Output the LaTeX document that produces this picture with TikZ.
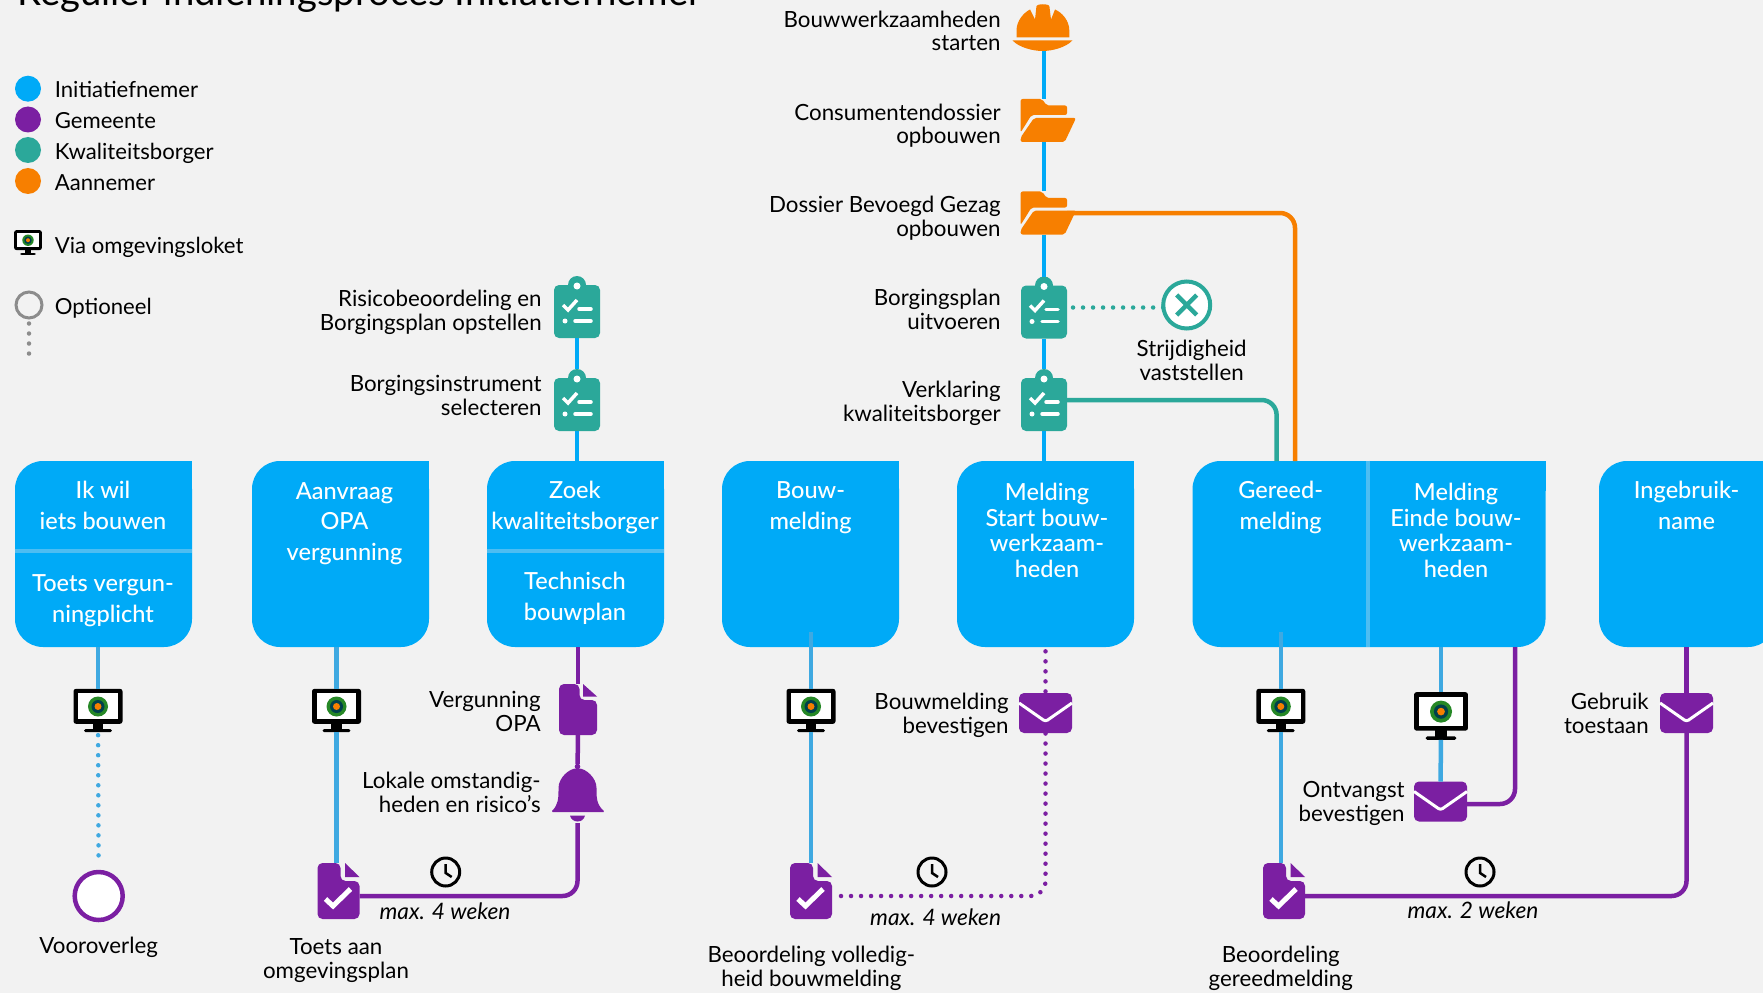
\documentclass[tikz,border=0pt]{standalone}
\usepackage{fontspec}
\setmainfont{Lato}
\newfontfamily\mediumfont{Lato Medium}
\usetikzlibrary{positioning, calc}
\definecolor{pagebg}{HTML}{F2F2F2}
\definecolor{boxblue}{HTML}{00AAF7}
\definecolor{lowblue}{HTML}{3FA9E1}
\definecolor{divblue}{HTML}{4DBDF2}
\definecolor{gemeente}{HTML}{7B1FA2}
\definecolor{borger}{HTML}{2BA89A}
\definecolor{aannemer}{HTML}{F77F00}
\definecolor{optgrey}{HTML}{8C8C8C}
\newcommand{\pxu}{0.02cm}
\tikzset{
    phase/.style={rectangle, fill=boxblue, rounded corners=0.56cm, inner sep=0pt, minimum height=186*\pxu},
    phasetxt/.style={anchor=base, align=center, inner sep=0pt, text=white, font=\mediumfont\fontsize{13.4}{17.2}\selectfont},
    phasetxtB/.style={phasetxt, font=\mediumfont\fontsize{13.4}{14.5}\selectfont},
    divider/.style={divblue, line width=4*\pxu},
    txtR/.style={anchor=base east, align=right, inner sep=0pt, font=\fontsize{12.7}{13.4}\selectfont},
    txtC/.style={anchor=base, align=center, inner sep=0pt, font=\fontsize{12.7}{13.4}\selectfont},
    txtL/.style={anchor=base west, inner sep=0pt, font=\fontsize{12.6}{13.4}\selectfont},
    txtI/.style={anchor=base, inner sep=0pt, font=\itshape\fontsize{12.9}{13.4}\selectfont},
    zone/.style={rectangle, inner sep=0pt, outer sep=0pt, transform shape},
    legdot/.style={circle, inner sep=0pt, minimum size=26*\pxu},
    mainline/.style={line width=4.5*\pxu},
    dotline/.style={line width=4.5*\pxu, line cap=round, dash pattern=on 0pt off 5.7pt},
    bendline/.style={rounded corners=0.3cm},
    % icons, drawn round the origin, 1 unit = 1 pixel
    pics/clipboard/.style={code={
        \node[zone, minimum width=46*\pxu, minimum height=62*\pxu] (-c) at (0,0) {};
        \fill[borger, rounded corners=0.1cm] (-23,-22) rectangle (23,31);
        \fill[borger] (0,-22) circle (9);
        \fill[white] (0,-21) circle (3.5);
        \draw[white, line width=3.5*\pxu] (-14,-2) -- (-9,3) -- (0,-7);
        \draw[white, line width=3.5*\pxu, line cap=round] (2,2) -- (14,2);
        \fill[white] (-12,14) circle (2.5);
        \draw[white, line width=3.5*\pxu, line cap=round] (-2,14) -- (14,14);
    }},
    pics/folder/.style={code={
        \node[zone, minimum width=46*\pxu, minimum height=43*\pxu] (-c) at (0,0) {};
        \fill[aannemer, rounded corners=0.04cm] (-23.4,-21.5) -- (-2,-21.5) -- (2.7,-15) -- (23,-15) -- (23,-5.5) -- (-12.5,-5.5) -- (-23.4,12) -- cycle;
        \fill[aannemer, rounded corners=0.04cm] (-10,-2.5) -- (32,-2.5) -- (20.7,21.5) -- (-23.4,21.5) -- (-23.4,17) -- cycle;
    }},
    pics/hat/.style={code={
        \node[zone, minimum width=46*\pxu, minimum height=47*\pxu] (-c) at (0,0) {};
        \fill[aannemer] (-27.5,10) -- (-27.5,3) .. controls (-27.5,-7) and (-20,-15) .. (-14,-18) -- (-9,-8) -- (-7.6,-21) .. controls (-7.6,-24) and (5.4,-24) .. (5.4,-21) -- (7,-8) -- (11,-18) .. controls (18,-15) and (25.3,-7) .. (25.3,3) -- (25.3,10) -- cycle;
        \fill[aannemer] (-31.4,13) -- (28.3,13) .. controls (22,20) and (8,23.5) .. (-1.5,23.5) .. controls (-11,23.5) and (-25,20) .. (-31.4,13) -- cycle;
    }},
    pics/mail/.style={code={
        \node[zone, minimum width=53*\pxu, minimum height=40*\pxu] (-c) at (0,0) {};
        \coordinate (-out) at (26,2.5);
        \fill[gemeente, rounded corners=0.1cm] (-26.5,-20) rectangle (26.5,20);
        \draw[white, line width=3*\pxu, rounded corners=0.05cm] (-26.5,-10) -- (0,8.5) -- (26.5,-10);
    }},
    pics/plaindoc/.style={code={
        \node[zone, minimum width=38*\pxu, minimum height=51*\pxu] (-c) at (0,0) {};
        \fill[gemeente, rounded corners=0.1cm] (-19,-25.5) -- (1.5,-25.5) -- (1.5,-9.5) -- (19,-9.5) -- (19,25.5) -- (-19,25.5) -- cycle;
        \fill[gemeente] (5,-25.5) -- (19,-13) -- (5,-13) -- cycle;
    }},
    pics/checkdoc/.style={code={
        \node[zone, minimum width=42*\pxu, minimum height=56*\pxu] (-c) at (0,0) {};
        \coordinate (-out) at (21,5);
        \fill[gemeente, rounded corners=0.1cm] (-21,-28) -- (2,-28) -- (2,-10) -- (21,-10) -- (21,28) -- (-21,28) -- cycle;
        \fill[gemeente] (6.5,-28) -- (21,-14) -- (6.5,-14) -- cycle;
        \draw[white, line width=5*\pxu] (-13,8) -- (-5.5,15) -- (12,-2);
    }},
    pics/bell/.style={code={
        \node[zone, minimum width=40*\pxu, minimum height=59*\pxu] (-c) at (0,0) {};
        \fill[gemeente] (0,-27) circle (2.8);
        \fill[gemeente, rounded corners=0.03cm] (-26.5,18.5) .. controls (-19,11) and (-19,4) .. (-19,-4) .. controls (-19,-16) and (-8,-25) .. (0,-25) .. controls (8,-25) and (19,-16) .. (19,-4) .. controls (19,4) and (19,11) .. (27.5,18.5) -- cycle;
        \fill[gemeente] (-7.5,22) .. controls (-6,30) and (6,30) .. (7.5,22) -- cycle;
    }},
    pics/monitor/.style={code={
        \node[zone, minimum width=49*\pxu, minimum height=43.4*\pxu] (-c) at (0,0) {};
        \fill[black, rounded corners=0.05cm] (-24.5,-21.7) rectangle (24.5,13.3);
        \fill[white] (-19.8,-17.3) rectangle (19.8,8.7);
        \fill[black] (-5.3,13) rectangle (5.3,19);
        \fill[black, rounded corners=0.03cm] (-13.9,18.5) rectangle (13.9,21.7);
        \fill[green!45!black!85] (0,-4) circle (10);
        \fill[blue!40!black!75!green] (0,-4) circle (6.5);
        \fill[aannemer] (0,-4) circle (3.5);
    }},
    pics/clock/.style={code={
        \node[zone, minimum size=29*\pxu] (-c) at (0,0) {};
        \draw[black, line width=3*\pxu] (0,0) circle (14);
        \draw[black, line width=2.5*\pxu] (0,-8) -- (0,1) -- (6,5);
    }},
    pics/cross/.style={code={
        \node[zone, circle, draw=borger, fill=white, line width=4*\pxu, minimum size=47*\pxu] (-c) at (0,0) {};
        \draw[borger, line width=4.5*\pxu] (-10,-10) -- (10,10) (-10,10) -- (10,-10);
    }},
}
\begin{document}
\begin{tikzpicture}[x=\pxu, y=-\pxu]
    \path[use as bounding box, clip] (0,0) rectangle (1763,993);
    \fill[pagebg] (0,0) rectangle (1763,993);

    % Title and legend
    \node[anchor=base west, inner sep=0pt, font=\fontsize{21.8}{24}\selectfont] (title) at (17,5.5) {Regulier indieningsproces Initiatiefnemer};
    \node[legdot, fill=boxblue] (legA) at (28,88.7) {};
    \node[legdot, fill=gemeente] (legB) at (28,119.5) {};
    \node[legdot, fill=borger] (legC) at (28,150) {};
    \node[legdot, fill=aannemer] (legD) at (28,181) {};
    \node[txtL] (legAt) at (54.5,98) {Initiatiefnemer};
    \node[txtL] (legBt) at (54.5,129) {Gemeente};
    \node[txtL] (legCt) at (54.5,160) {Kwaliteitsborger};
    \node[txtL] (legDt) at (54.5,191) {Aannemer};
    \pic[scale=0.57] (legM) at (28,242.5) {monitor};
    \node[txtL] (legMt) at (54.5,253) {Via omgevingsloket};
    \node[legdot, draw=optgrey, fill=none, line width=3*\pxu] (legO) at (29,305) {};
    \node[txtL] (legOt) at (54.5,314) {Optioneel};
    \coordinate (legOend) at (29,357);
    \draw[optgrey, dotline, shorten <=4*\pxu] (legO) -- (legOend);

    % Phase boxes
    \node[phase, minimum width=177*\pxu] (boxA) at (103.5,554) {};
    \node[phase, minimum width=177*\pxu] (boxB) at (340.5,554) {};
    \node[phase, minimum width=177*\pxu] (boxC) at (575.5,554) {};
    \node[phase, minimum width=177*\pxu] (boxD) at (810.5,554) {};
    \node[phase, minimum width=177*\pxu] (boxE) at (1045.5,554) {};
    \node[phase, minimum width=353*\pxu] (boxF) at (1369,554) {};
    \node[phase, minimum width=177*\pxu] (boxG) at (1687.5,554) {};
    \foreach \b in {boxA,boxB,boxC,boxD,boxE,boxF,boxG}
        \fill[boxblue] (\b.north east) rectangle ++(-30,30);
    \draw[divider] (boxA.west) ++(0,-3) -- ++(177,0);
    \draw[divider] (boxC.west) ++(0,-3) -- ++(177,0);
    \draw[divider] (boxF.north) ++(-1,0) -- ++(0,186);

    \node[phasetxt] (txtA) at (103,529) {Ik wil\\iets bouwen};
    \node[phasetxt] (txtAb) at (103,622) {Toets vergun-\\ningplicht};
    \node[phasetxt] (txtB) at (344.5,560) {Aanvraag\\OPA\\vergunning};
    \node[phasetxt] (txtC) at (575,529) {Zoek\\kwaliteitsborger};
    \node[phasetxt] (txtCb) at (575,620) {Technisch\\bouwplan};
    \node[phasetxt] (txtD) at (810.5,529) {Bouw-\\melding};
    \node[phasetxtB] (txtE) at (1047,577) {Melding\\Start bouw-\\werkzaam-\\heden};
    \node[phasetxt] (txtF) at (1280.7,529) {Gereed-\\melding};
    \node[phasetxtB] (txtFb) at (1456,577) {Melding\\Einde bouw-\\werkzaam-\\heden};
    \node[phasetxt] (txtG) at (1686.6,529) {Ingebruik-\\name};

    % Upper branch left
    \pic (clipA) at (577,307) {clipboard};
    \pic (clipB) at (577,400) {clipboard};
    \node[txtR] (clipAt) at (542,330) {Risicobeoordeling en\\Borgingsplan opstellen};
    \node[txtR] (clipBt) at (542,415) {Borgingsinstrument\\selecteren};
    \draw[boxblue, mainline] (clipA-c) -- (clipB-c);
    \draw[boxblue, mainline] (clipB-c) -- (clipB-c |- boxC.north);

    % Upper branch centre
    \pic (hatA) at (1044,27.5) {hat};
    \pic (foldA) at (1044,120.5) {folder};
    \pic (foldB) at (1044,213) {folder};
    \pic (clipC) at (1044,307.5) {clipboard};
    \pic (clipD) at (1044,400) {clipboard};
    \pic (crossA) at (1186.7,305) {cross};
    \node[txtR] (hatAt) at (1001,51) {Bouwwerkzaamheden\\starten};
    \node[txtR] (foldAt) at (1001,144) {Consumentendossier\\opbouwen};
    \node[txtR] (foldBt) at (1001,236) {Dossier Bevoegd Gezag\\opbouwen};
    \node[txtR] (clipCt) at (1001,329) {Borgingsplan\\uitvoeren};
    \node[txtR] (clipDt) at (1001,421) {Verklaring\\kwaliteitsborger};
    \node[txtC] (crossAt) at (1191.6,380) {Strijdigheid\\vaststellen};
    \draw[boxblue, mainline] (hatA-c) -- (foldA-c);
    \draw[boxblue, mainline] (foldA-c) -- (foldB-c);
    \draw[boxblue, mainline] (foldB-c) -- (clipC-c);
    \draw[boxblue, mainline] (clipC-c) -- (clipD-c);
    \draw[boxblue, mainline] (clipD-c) -- (clipD-c |- boxE.north);
    \draw[borger, dotline, shorten <=6*\pxu] (clipC-c.east) -- (clipC-c.east -| crossA-c.west);
    \coordinate (inT) at (1276.6,461);
    \coordinate (inO) at (1295,461);
    \draw[borger, mainline, bendline] (clipD-c.east) -| (inT);
    \draw[aannemer, mainline, bendline] (foldB-c.east) -| (inO);

    % Lower branch: Vooroverleg
    \pic (monA) at (98,710.5) {monitor};
    \node[circle, draw=gemeente, fill=white, line width=4.5*\pxu, minimum size=48*\pxu, inner sep=0pt] (preA) at (98.7,896) {};
    \node[txtC] (preAt) at (98.7,953) {Vooroverleg};
    \draw[lowblue, mainline] (boxA.south -| monA-c) -- (monA-c);
    \draw[lowblue, dotline, shorten <=3*\pxu, shorten >=8*\pxu] (monA-c) -- (preA);

    % Lower branch: OPA
    \pic (monB) at (336.5,710.5) {monitor};
    \pic (docB) at (338.5,891) {checkdoc};
    \pic (docO) at (578,709.5) {plaindoc};
    \pic (bellA) at (577.5,793.5) {bell};
    \pic (clockA) at (445.7,872) {clock};
    \node[txtC] (docBt) at (336,978) {Toets aan\\omgevingsplan};
    \node[txtR] (docOt) at (541,731) {Vergunning\\OPA};
    \node[txtR] (bellAt) at (541,812) {Lokale omstandig-\\heden en risico's};
    \node[txtI] (clockAt) at (445,919) {max. 4 weken};
    \draw[lowblue, mainline] (boxB.south -| monB-c) -- (monB-c);
    \draw[lowblue, mainline] (monB-c) -- (monB-c |- docB-c.north);
    \draw[gemeente, mainline] (boxC.south -| docO-c) -- (docO-c);
    \draw[gemeente, mainline] (docO-c) -- (bellA-c);
    \draw[gemeente, mainline, bendline] (docB-out) -| (bellA-c.south);

    % Lower branch: Bouwmelding
    \coordinate (stubD) at (811,632);
    \pic (monC) at (811,710.5) {monitor};
    \pic (docC) at (811,891) {checkdoc};
    \pic (mailA) at (1045.5,713) {mail};
    \pic (clockB) at (932,872) {clock};
    \node[txtC] (docCt) at (811.4,986) {Beoordeling volledig-\\heid bouwmelding};
    \node[txtR] (mailAt) at (1009,733) {Bouwmelding\\bevestigen};
    \node[txtI] (clockBt) at (935.6,925) {max. 4 weken};
    \draw[lowblue, mainline] (stubD) -- (monC-c);
    \draw[lowblue, mainline] (monC-c) -- (docC-c);
    \draw[gemeente, dotline, shorten <=4*\pxu] (boxE.south -| mailA-c) -- (mailA-c);
    \draw[gemeente, dotline, bendline, shorten <=4*\pxu] ([xshift=5*\pxu]docC-out) -| (mailA-c.south);

    % Lower branch: Gereedmelding
    \coordinate (stubF) at (1280.8,632);
    \coordinate (outF) at (1515,647);
    \pic (monD) at (1280.8,710.5) {monitor};
    \pic (docD) at (1284,891) {checkdoc};
    \pic[scale=1.1] (monE) at (1441,716) {monitor};
    \pic (mailB) at (1440.5,801.5) {mail};
    \pic (mailC) at (1686.5,713) {mail};
    \pic (clockC) at (1480,872) {clock};
    \node[txtC] (docDt) at (1280.8,986) {Beoordeling\\gereedmelding};
    \node[txtR] (mailBt) at (1405,821) {Ontvangst\\bevestigen};
    \node[txtR] (mailCt) at (1649,733) {Gebruik\\toestaan};
    \node[txtI] (clockCt) at (1473,918) {max. 2 weken};
    \draw[lowblue, mainline] (stubF) -- (monD-c);
    \draw[lowblue, mainline] (monD-c) -- (monD-c |- docD-c.north);
    \draw[lowblue, mainline] (boxF.south -| monE-c) -- (monE-c);
    \draw[lowblue, mainline] (monE-c) -- (mailB-c);
    \draw[gemeente, mainline, bendline] (outF) |- (mailB-out);
    \draw[gemeente, mainline] (boxG.south -| mailC-c) -- (mailC-c);
    \draw[gemeente, mainline, bendline] (mailC-c) |- (docD-out);
\end{tikzpicture}
\end{document}
